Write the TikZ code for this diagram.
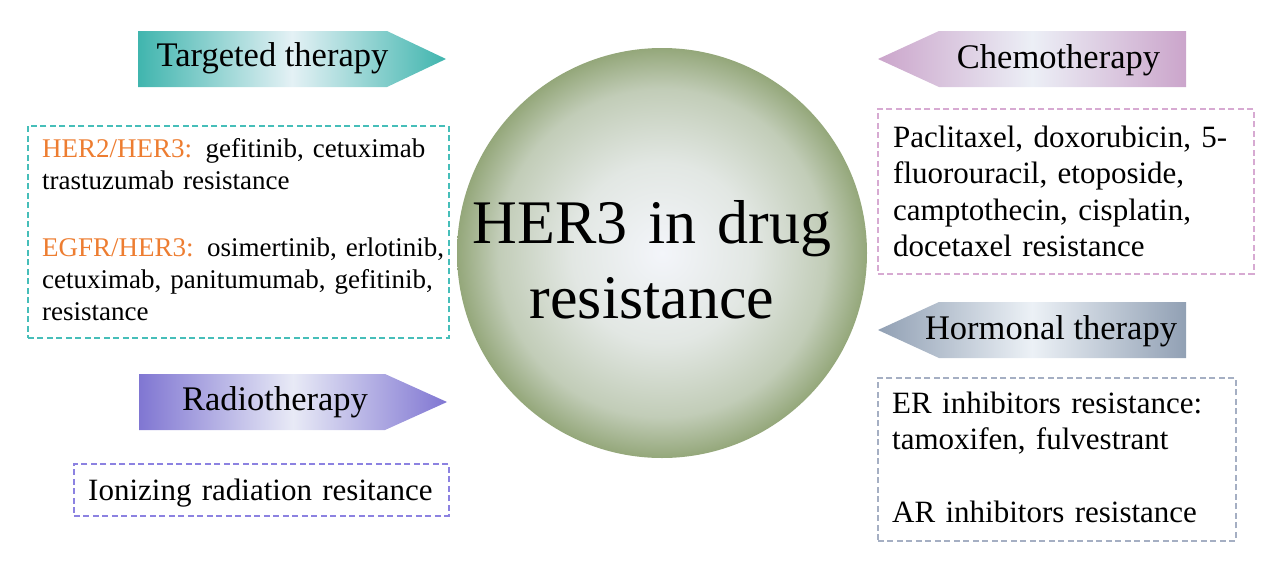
\documentclass[tikz,border=0pt]{standalone}
\usepackage{fontspec}
\setmainfont{Liberation Serif}
\definecolor{tealA}{RGB}{64,181,174}
\definecolor{tealM}{RGB}{228,241,245}
\definecolor{tealD}{RGB}{70,190,185}
\definecolor{chemA}{RGB}{203,165,203}
\definecolor{chemM}{RGB}{236,239,246}
\definecolor{chemD}{RGB}{215,170,210}
\definecolor{hormA}{RGB}{145,160,180}
\definecolor{hormM}{RGB}{236,241,246}
\definecolor{hormD}{RGB}{165,175,195}
\definecolor{radA}{RGB}{128,118,210}
\definecolor{radM}{RGB}{232,234,246}
\definecolor{radD}{RGB}{140,130,225}
\definecolor{circEdge}{RGB}{148,167,122}
\definecolor{circMid}{RGB}{243,245,250}
\colorlet{circA}{circMid!82!circEdge}
\colorlet{circB}{circMid!48!circEdge}
\definecolor{herorange}{RGB}{237,125,49}
\pgfdeclareradialshading{circshade}{\pgfpoint{0bp}{0bp}}{color(0bp)=(circMid); color(11bp)=(circA); color(20bp)=(circB); color(25bp)=(circEdge); color(50bp)=(circEdge)}
\tikzset{
  dbox/.style={draw, dash pattern=on 6pt off 3.5pt, line width=1.8pt, rectangle, inner sep=0pt, anchor=north west},
  ttl/.style={font=\fontsize{34.5}{40}\selectfont, inner sep=0pt, anchor=base},
  txtS/.style={font=\fontsize{27}{32}\selectfont, inner sep=0pt, anchor=base west, text width=420pt, align=left},
  txtM/.style={font=\fontsize{31}{36.5}\selectfont, inner sep=0pt, anchor=base west, text width=380pt, align=left},
}
\begin{document}
\begin{tikzpicture}[x=1pt,y=-1pt]
\useasboundingbox (0,0) rectangle (1267,568);
% central circle
\shade[shading=circshade] (662,253) circle[radius=205pt];
\node[font=\fontsize{62}{75}\selectfont, inner sep=0pt, anchor=base, text width=420pt, align=center] (center) at (652,243) {HER3 in drug\\resistance};
% arrows
\shade[left color=tealA, right color=tealA, middle color=tealM] (138,31) -- (387,31) -- (446,59) -- (387,87) -- (138,87) -- cycle;
\node[ttl] (targeted) at (272.5,66) {Targeted therapy};
\shade[left color=chemA, right color=chemA, middle color=chemM] (1186,31) -- (939,31) -- (878,59) -- (939,87) -- (1186,87) -- cycle;
\node[ttl] (chemo) at (1058.5,68) {Chemotherapy};
\shade[left color=hormA, right color=hormA, middle color=hormM] (1186,302) -- (939,302) -- (878,330) -- (939,358) -- (1186,358) -- cycle;
\node[ttl] (hormonal) at (1051,339) {Hormonal therapy};
\shade[left color=radA, right color=radA, middle color=radM] (139,374) -- (385,374) -- (447,402) -- (385,430) -- (139,430) -- cycle;
\node[ttl] (radio) at (275,410.5) {Radiotherapy};
% dashed boxes
\node[dbox, draw=tealD, minimum width=421pt, minimum height=212pt] (tbox) at (27,125) {};
\node[dbox, draw=chemD, minimum width=376pt, minimum height=165pt] (cbox) at (877,108) {};
\node[dbox, draw=hormD, minimum width=358pt, minimum height=163pt] (hbox) at (877,377) {};
\node[dbox, draw=radD, minimum width=375pt, minimum height=52pt] (rbox) at (73,463) {};
% box texts
\node[txtS] (ttext) at (42,157) {\textcolor{herorange}{HER2/HER3:} gefitinib, cetuximab\\trastuzumab resistance\\[35pt]\textcolor{herorange}{EGFR/HER3:} osimertinib, erlotinib,\\cetuximab, panitumumab, gefitinib,\\resistance};
\node[txtM] (ctext) at (893,147) {Paclitaxel, doxorubicin, 5-\\fluorouracil, etoposide,\\camptothecin, cisplatin,\\docetaxel resistance};
\node[txtM] (htext) at (892,413) {ER inhibitors resistance:\\tamoxifen, fulvestrant\\[36.5pt]AR inhibitors resistance};
\node[txtM] (rtext) at (88,500) {Ionizing radiation resitance};
\end{tikzpicture}
\end{document}
